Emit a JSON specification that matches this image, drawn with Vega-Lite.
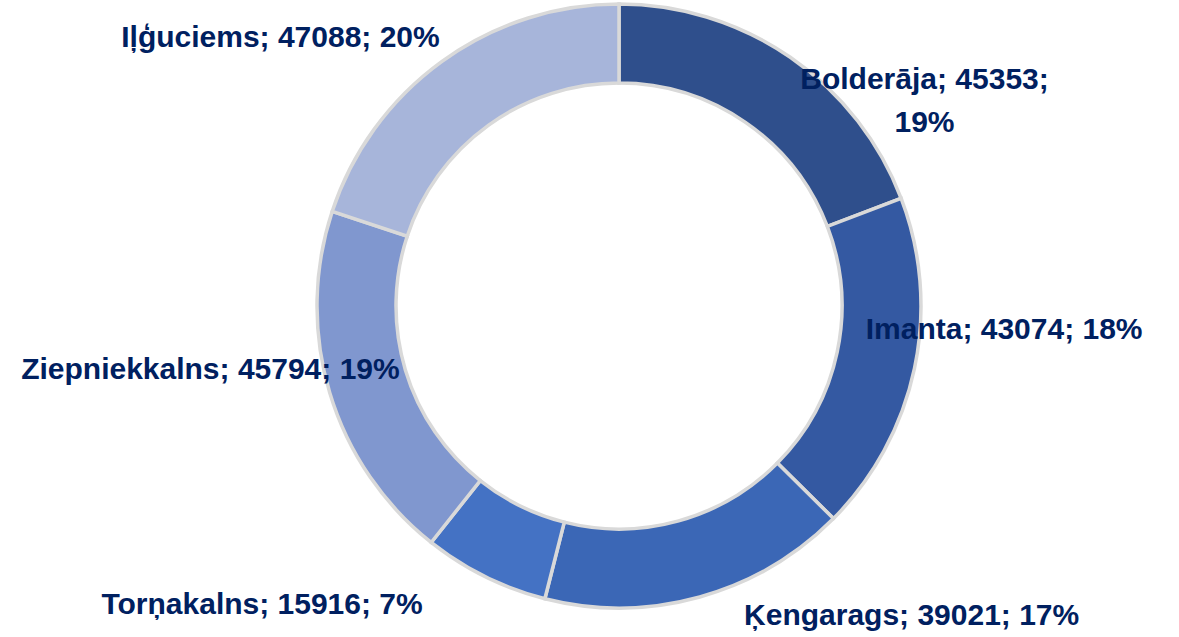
{
  "$schema": "https://vega.github.io/schema/vega-lite/v6.json",
  "width": 1120,
  "height": 612,
  "padding": {"left": 59, "top": 0, "right": 0, "bottom": 25},
  "autosize": {"type": "none"},
  "background": "white",
  "config": {"view": {"stroke": null}},
  "data": {
    "values": [
      {"district": "Bolderāja", "value": 45353, "idx": 1, "label": "Bolderāja; 45353;\n19%"},
      {"district": "Imanta", "value": 43074, "idx": 2, "label": "Imanta; 43074; 18%"},
      {"district": "Ķengarags", "value": 39021, "idx": 3, "label": "Ķengarags; 39021; 17%"},
      {"district": "Torņakalns", "value": 15916, "idx": 4, "label": "Torņakalns; 15916; 7%"},
      {"district": "Ziepniekkalns", "value": 45794, "idx": 5, "label": "Ziepniekkalns; 45794; 19%"},
      {"district": "Iļģuciems", "value": 47088, "idx": 6, "label": "Iļģuciems; 47088; 20%"}
    ]
  },
  "encoding": {
    "theta": {"field": "value", "type": "quantitative", "stack": true},
    "order": {"field": "idx", "type": "quantitative"}
  },
  "layer": [
    {
      "mark": {"type": "arc", "outerRadius": 302, "innerRadius": 223, "stroke": "#D9D9D9", "strokeWidth": 3.5},
      "encoding": {
        "color": {
          "field": "district",
          "type": "nominal",
          "legend": null,
          "scale": {
            "domain": ["Bolderāja", "Imanta", "Ķengarags", "Torņakalns", "Ziepniekkalns", "Iļģuciems"],
            "range": ["#2F4F8C", "#3459A2", "#3B67B6", "#4472C4", "#8097CF", "#A7B5DA"]
          }
        }
      }
    },
    {
      "mark": {"type": "text", "radius": 320, "dx": 124, "dy": 38, "align": "center", "baseline": "middle", "lineBreak": "\n", "lineHeight": 43, "font": "Liberation Sans", "fontWeight": "bold", "fontSize": 30, "color": "#002060"},
      "encoding": {"text": {"condition": {"test": "datum.district === 'Bolderāja'", "field": "label"}, "value": ""}}
    },
    {
      "mark": {"type": "text", "radius": 320, "dx": 72, "dy": -42, "align": "center", "baseline": "middle", "font": "Liberation Sans", "fontWeight": "bold", "fontSize": 30, "color": "#002060"},
      "encoding": {"text": {"condition": {"test": "datum.district === 'Imanta'", "field": "label"}, "value": ""}}
    },
    {
      "mark": {"type": "text", "radius": 320, "dx": 207, "dy": 2, "align": "center", "baseline": "middle", "font": "Liberation Sans", "fontWeight": "bold", "fontSize": 30, "color": "#002060"},
      "encoding": {"text": {"condition": {"test": "datum.district === 'Ķengarags'", "field": "label"}, "value": ""}}
    },
    {
      "mark": {"type": "text", "radius": 320, "dx": -215, "dy": 12, "align": "center", "baseline": "middle", "font": "Liberation Sans", "fontWeight": "bold", "fontSize": 30, "color": "#002060"},
      "encoding": {"text": {"condition": {"test": "datum.district === 'Torņakalns'", "field": "label"}, "value": ""}}
    },
    {
      "mark": {"type": "text", "radius": 320, "dx": -102, "dy": -28, "align": "center", "baseline": "middle", "font": "Liberation Sans", "fontWeight": "bold", "fontSize": 30, "color": "#002060"},
      "encoding": {"text": {"condition": {"test": "datum.district === 'Ziepniekkalns'", "field": "label"}, "value": ""}}
    },
    {
      "mark": {"type": "text", "radius": 320, "dx": -151, "dy": -9, "align": "center", "baseline": "middle", "font": "Liberation Sans", "fontWeight": "bold", "fontSize": 30, "color": "#002060"},
      "encoding": {"text": {"condition": {"test": "datum.district === 'Iļģuciems'", "field": "label"}, "value": ""}}
    }
  ]
}
